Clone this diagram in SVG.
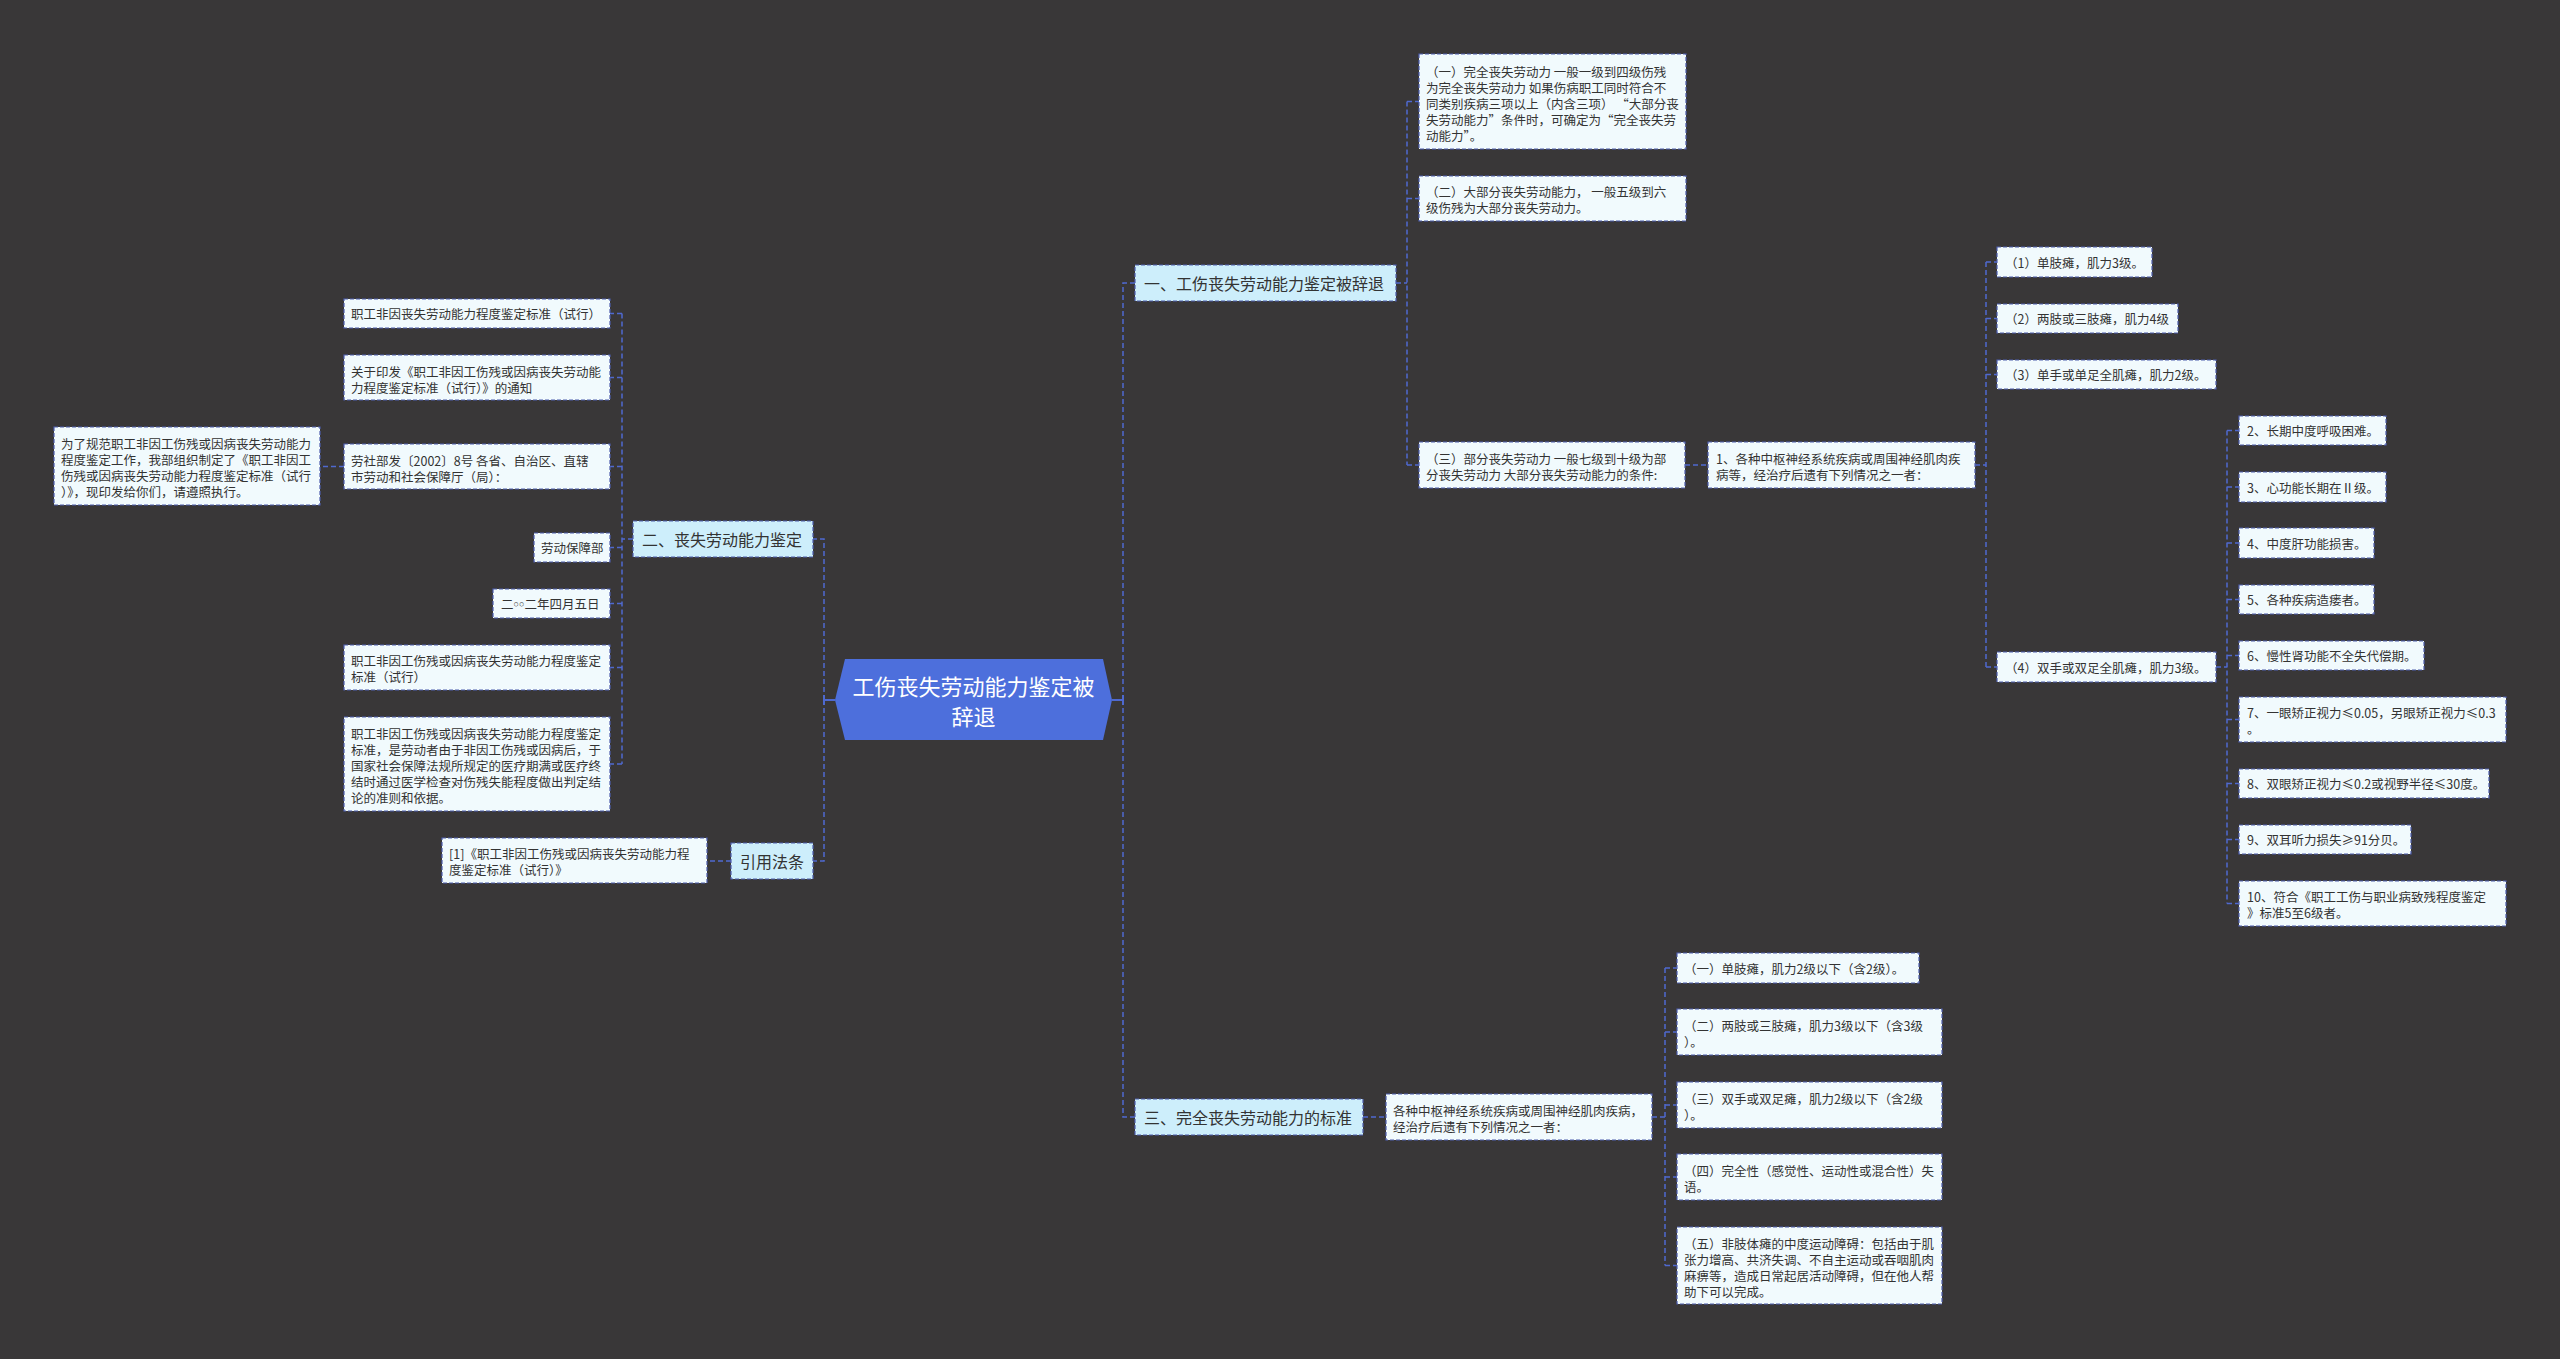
<svg xmlns="http://www.w3.org/2000/svg" width="2560" height="1359" viewBox="0 0 2560 1359">
<style>
.bg{fill:#393738}
.leaf{fill:#f1fafd;stroke:#4e5eae;stroke-width:1.2;stroke-dasharray:4 2}
.main{fill:#cdeefb;stroke:#4e5eae;stroke-width:1.2;stroke-dasharray:4 2}
.t{font-family:"Noto Sans CJK SC","Noto Sans",sans-serif;font-size:12.5px;fill:#333333;dominant-baseline:central}
.tm{font-family:"Noto Sans CJK SC","Noto Sans",sans-serif;font-size:16px;fill:#333333;dominant-baseline:central}
.tc{font-family:"Noto Sans CJK SC","Noto Sans",sans-serif;font-size:22px;fill:#ffffff;dominant-baseline:central;text-anchor:middle}
.sm{font-family:"Liberation Sans","DejaVu Sans",sans-serif;font-size:9px}
.c{fill:none;stroke:#4f69cf;stroke-width:1.5;stroke-dasharray:5 3}
.cs{fill:none;stroke:#4f69cf;stroke-width:2}
</style>
<rect class="bg" x="0" y="0" width="2560" height="1359"/>

<g id="connectors">
  <path class="cs" d="M1112 700 H1123 M1123 695 V705"/>
  <path class="c" d="M1123 700 V283 H1135"/>
  <path class="c" d="M1123 700 V1117 H1135"/>
  <path class="cs" d="M835 700 H824 M824 695 V705"/>
  <path class="c" d="M824 700 V539 H813"/>
  <path class="c" d="M824 700 V861 H813"/>
  <path class="c" d="M1396 283 H1407 M1407 101.5 V465 M1407 101.5 H1419 M1407 198.5 H1419 M1407 465 H1419"/>
  <path class="c" d="M1685 465 H1708"/>
  <path class="c" d="M1975 465 H1986 M1986 262 V667 M1986 262 H1997 M1986 318.5 H1997 M1986 374.5 H1997 M1986 667 H1997"/>
  <path class="c" d="M2216 667 H2227 M2227 430.5 V903.5 M2227 430.5 H2239 M2227 487 H2239 M2227 543 H2239 M2227 599.5 H2239 M2227 655.5 H2239 M2227 719.5 H2239 M2227 783.5 H2239 M2227 839.5 H2239 M2227 903.5 H2239"/>
  <path class="c" d="M1363 1117 H1386"/>
  <path class="c" d="M1652 1117 H1665 M1665 968 V1265.5 M1665 968 H1677 M1665 1032 H1677 M1665 1105 H1677 M1665 1177 H1677 M1665 1265.5 H1677"/>
  <path class="c" d="M633 539 H622 M622 313.5 V764 M622 313.5 H610 M622 377.5 H610 M622 466.5 H610 M622 547.5 H610 M622 603.5 H610 M622 667.5 H610 M622 764 H610"/>
  <path class="c" d="M344 466.5 H320"/>
  <path class="c" d="M731 861 H707"/>
</g>

<g id="center">
  <polygon points="835,700 845,659 1103,659 1112,700 1103,740 845,740" fill="#4d6fdc"/>
  <text class="tc" x="973.5" y="685">工伤丧失劳动能力鉴定被</text>
  <text class="tc" x="973.5" y="715">辞退</text>
</g>

<g id="n1"><rect class="main" x="1135" y="265" width="261" height="36"/><text class="tm" x="1144" y="283">一、工伤丧失劳动能力鉴定被辞退</text></g>
<g id="n2"><rect class="main" x="633" y="521" width="180" height="36"/><text class="tm" x="642" y="539">二、丧失劳动能力鉴定</text></g>
<g id="n3"><rect class="main" x="731" y="843" width="82" height="36"/><text class="tm" x="740" y="861">引用法条</text></g>
<g id="n4"><rect class="main" x="1135" y="1099" width="228" height="36"/><text class="tm" x="1144" y="1117">三、完全丧失劳动能力的标准</text></g>

<g id="a1"><rect class="leaf" x="1419" y="54" width="267" height="95"/>
  <text class="t" x="1426" y="71.5">（一）完全丧失劳动力 一般一级到四级伤残</text>
  <text class="t" x="1426" y="87.5">为完全丧失劳动力 如果伤病职工同时符合不</text>
  <text class="t" x="1426" y="103.5">同类别疾病三项以上（内含三项） “大部分丧</text>
  <text class="t" x="1426" y="119.5">失劳动能力”条件时，可确定为“完全丧失劳</text>
  <text class="t" x="1426" y="135.5">动能力”。</text></g>
<g id="a2"><rect class="leaf" x="1419" y="176" width="267" height="45"/>
  <text class="t" x="1426" y="191.5">（二）大部分丧失劳动能力， 一般五级到六</text>
  <text class="t" x="1426" y="207">级伤残为大部分丧失劳动力。</text></g>
<g id="a3"><rect class="leaf" x="1419" y="442" width="266" height="46"/>
  <text class="t" x="1426" y="458">（三）部分丧失劳动力 一般七级到十级为部</text>
  <text class="t" x="1426" y="474">分丧失劳动力 大部分丧失劳动能力的条件:</text></g>
<g id="b1"><rect class="leaf" x="1708" y="442" width="267" height="46"/>
  <text class="t" x="1716" y="458">1、各种中枢神经系统疾病或周围神经肌肉疾</text>
  <text class="t" x="1716" y="474">病等，经治疗后遗有下列情况之一者：</text></g>
<g id="c1"><rect class="leaf" x="1997" y="247" width="155" height="30"/><text class="t" x="2005" y="262">（1）单肢瘫，肌力3级。</text></g>
<g id="c2"><rect class="leaf" x="1997" y="304" width="181" height="29"/><text class="t" x="2005" y="318.5">（2）两肢或三肢瘫，肌力4级</text></g>
<g id="c3"><rect class="leaf" x="1997" y="360" width="219" height="29"/><text class="t" x="2005" y="374.5">（3）单手或单足全肌瘫，肌力2级。</text></g>
<g id="c4"><rect class="leaf" x="1997" y="652" width="219" height="30"/><text class="t" x="2005" y="667">（4）双手或双足全肌瘫，肌力3级。</text></g>
<g id="d2"><rect class="leaf" x="2239" y="416" width="147" height="29"/><text class="t" x="2247" y="430.5">2、长期中度呼吸困难。</text></g>
<g id="d3"><rect class="leaf" x="2239" y="472" width="147" height="30"/><text class="t" x="2247" y="487">3、心功能长期在Ⅱ级。</text></g>
<g id="d4"><rect class="leaf" x="2239" y="528" width="135" height="30"/><text class="t" x="2247" y="543">4、中度肝功能损害。</text></g>
<g id="d5"><rect class="leaf" x="2239" y="585" width="135" height="29"/><text class="t" x="2247" y="599.5">5、各种疾病造瘘者。</text></g>
<g id="d6"><rect class="leaf" x="2239" y="641" width="185" height="29"/><text class="t" x="2247" y="655.5">6、慢性肾功能不全失代偿期。</text></g>
<g id="d7"><rect class="leaf" x="2239" y="697" width="267" height="45"/>
  <text class="t" x="2247" y="712.5">7、一眼矫正视力≤0.05，另眼矫正视力≤0.3</text>
  <text class="t" x="2247" y="728.5">。</text></g>
<g id="d8"><rect class="leaf" x="2239" y="769" width="250" height="29"/><text class="t" x="2247" y="783.5">8、双眼矫正视力≤0.2或视野半径≤30度。</text></g>
<g id="d9"><rect class="leaf" x="2239" y="825" width="172" height="29"/><text class="t" x="2247" y="839.5">9、双耳听力损失≥91分贝。</text></g>
<g id="d10"><rect class="leaf" x="2239" y="881" width="267" height="45"/>
  <text class="t" x="2247" y="896.5">10、符合《职工工伤与职业病致残程度鉴定</text>
  <text class="t" x="2247" y="912.5">》标准5至6级者。</text></g>

<g id="g1"><rect class="leaf" x="1386" y="1094" width="266" height="46"/>
  <text class="t" x="1393" y="1110.5">各种中枢神经系统疾病或周围神经肌肉疾病，</text>
  <text class="t" x="1393" y="1126.5">经治疗后遗有下列情况之一者：</text></g>
<g id="h1"><rect class="leaf" x="1677" y="953" width="242" height="30"/><text class="t" x="1684" y="968">（一）单肢瘫，肌力2级以下（含2级）。</text></g>
<g id="h2"><rect class="leaf" x="1677" y="1009" width="265" height="46"/>
  <text class="t" x="1684" y="1025">（二）两肢或三肢瘫，肌力3级以下（含3级</text>
  <text class="t" x="1684" y="1041">）。</text></g>
<g id="h3"><rect class="leaf" x="1677" y="1082" width="265" height="46"/>
  <text class="t" x="1684" y="1098">（三）双手或双足瘫，肌力2级以下（含2级</text>
  <text class="t" x="1684" y="1114">）。</text></g>
<g id="h4"><rect class="leaf" x="1677" y="1154" width="265" height="46"/>
  <text class="t" x="1684" y="1170">（四）完全性（感觉性、运动性或混合性）失</text>
  <text class="t" x="1684" y="1186">语。</text></g>
<g id="h5"><rect class="leaf" x="1677" y="1227" width="265" height="77"/>
  <text class="t" x="1684" y="1243">（五）非肢体瘫的中度运动障碍：包括由于肌</text>
  <text class="t" x="1684" y="1259">张力增高、共济失调、不自主运动或吞咽肌肉</text>
  <text class="t" x="1684" y="1275">麻痹等，造成日常起居活动障碍，但在他人帮</text>
  <text class="t" x="1684" y="1291">助下可以完成。</text></g>

<g id="e1"><rect class="leaf" x="344" y="299" width="266" height="29"/><text class="t" x="351" y="313.5">职工非因丧失劳动能力程度鉴定标准（试行）</text></g>
<g id="e2"><rect class="leaf" x="344" y="355" width="266" height="45"/>
  <text class="t" x="351" y="371">关于印发《职工非因工伤残或因病丧失劳动能</text>
  <text class="t" x="351" y="387">力程度鉴定标准（试行）》的通知</text></g>
<g id="e3"><rect class="leaf" x="344" y="444" width="266" height="45"/>
  <text class="t" x="351" y="460">劳社部发〔2002〕8号 各省、自治区、直辖</text>
  <text class="t" x="351" y="476">市劳动和社会保障厅（局）：</text></g>
<g id="e4"><rect class="leaf" x="54" y="427" width="266" height="78"/>
  <text class="t" x="61" y="443.5">为了规范职工非因工伤残或因病丧失劳动能力</text>
  <text class="t" x="61" y="459.5">程度鉴定工作，我部组织制定了《职工非因工</text>
  <text class="t" x="61" y="475.5">伤残或因病丧失劳动能力程度鉴定标准（试行</text>
  <text class="t" x="61" y="491.5">）》，现印发给你们，请遵照执行。</text></g>
<g id="e5"><rect class="leaf" x="534" y="533" width="76" height="29"/><text class="t" x="541" y="547.5">劳动保障部</text></g>
<g id="e6"><rect class="leaf" x="493" y="589" width="117" height="29"/><text class="t" x="501" y="603.5">二<tspan class="sm">○○</tspan>二年四月五日</text></g>
<g id="e7"><rect class="leaf" x="344" y="645" width="266" height="45"/>
  <text class="t" x="351" y="660.5">职工非因工伤残或因病丧失劳动能力程度鉴定</text>
  <text class="t" x="351" y="676.5">标准（试行）</text></g>
<g id="e8"><rect class="leaf" x="344" y="717" width="266" height="94"/>
  <text class="t" x="351" y="733">职工非因工伤残或因病丧失劳动能力程度鉴定</text>
  <text class="t" x="351" y="749">标准，是劳动者由于非因工伤残或因病后，于</text>
  <text class="t" x="351" y="765">国家社会保障法规所规定的医疗期满或医疗终</text>
  <text class="t" x="351" y="781">结时通过医学检查对伤残失能程度做出判定结</text>
  <text class="t" x="351" y="797">论的准则和依据。</text></g>
<g id="f1"><rect class="leaf" x="442" y="838" width="265" height="45"/>
  <text class="t" x="449" y="853.5">[1]《职工非因工伤残或因病丧失劳动能力程</text>
  <text class="t" x="449" y="869.5">度鉴定标准（试行）》</text></g>
</svg>
